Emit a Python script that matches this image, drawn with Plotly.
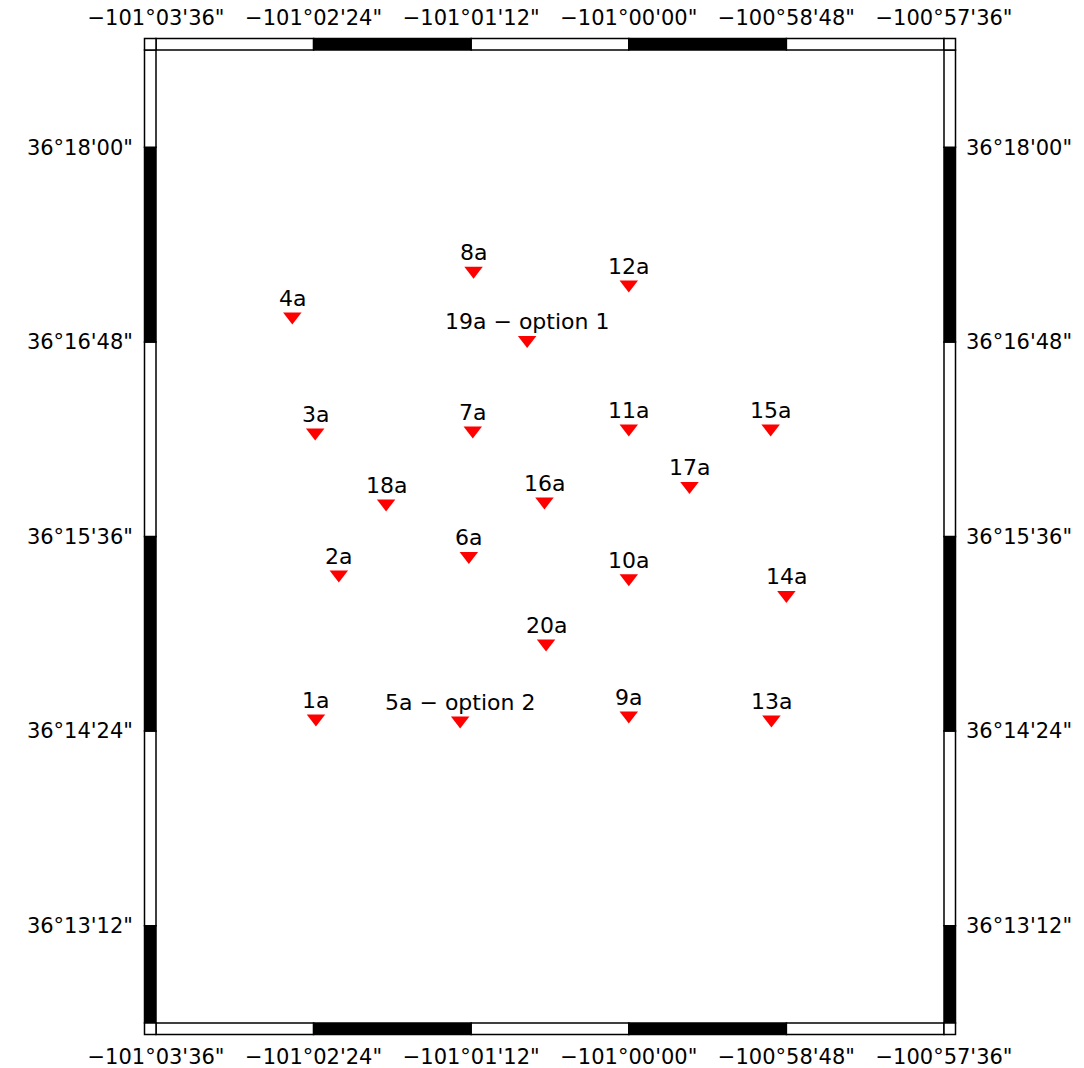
import plotly.graph_objects as go
import math

# ---------------- data ----------------
stations = ["1a", "2a", "3a", "4a", "5a", "6a", "7a", "8a", "9a", "10a",
            "11a", "12a", "13a", "14a", "15a", "16a", "17a", "18a", "19a", "20a"]
labels = ["1a", "2a", "3a", "4a", "5a \u2212 option 2", "6a", "7a", "8a", "9a", "10a",
          "11a", "12a", "13a", "14a", "15a", "16a", "17a", "18a", "19a \u2212 option 1", "20a"]
lon = [-101.0397, -101.0368, -101.0398, -101.0427, -101.0214, -101.0203, -101.0198, -101.0197,
       -101.0000, -101.0000, -101.0000, -101.0000, -100.9819, -100.9800, -100.9820, -101.0107,
       -100.9923, -101.0308, -101.0129, -101.0105]
lat = [36.2413, 36.2561, 36.2707, 36.2826, 36.2411, 36.2580, 36.2709, 36.2873,
       36.2416, 36.2557, 36.2711, 36.2859, 36.2412, 36.2540, 36.2711, 36.2636,
       36.2652, 36.2634, 36.2802, 36.2490]

lon_range = [-101.06, -100.96]
lat_range = [36.21, 36.31]

lon_ticks = [-101.06, -101.04, -101.02, -101.00, -100.98, -100.96]
lon_ticktext = ["\u2212101\u00b003'36\"", "\u2212101\u00b002'24\"", "\u2212101\u00b001'12\"",
                "\u2212101\u00b000'00\"", "\u2212100\u00b058'48\"", "\u2212100\u00b057'36\""]
lat_ticks = [36.22, 36.24, 36.26, 36.28, 36.30]
lat_ticktext = ["36\u00b013'12\"", "36\u00b014'24\"", "36\u00b015'36\"",
                "36\u00b016'48\"", "36\u00b018'00\""]
frame_interval = 0.02

# ---------------- layout constants ----------------
W, H = 1084, 1068
ML, MR, MT, MB = 156, 140, 50, 45
PW, PH = W - ML - MR, H - MT - MB
BAR = 11.5
FONT = "DejaVu Sans"

fig = go.Figure()

fig.add_trace(go.Scatter(
    x=lon, y=lat, mode="markers", text=stations,
    marker=dict(symbol="triangle-down", size=16, color="#ff0000", line=dict(width=0)),
    hoverinfo="text", showlegend=False))

# invisible trace for secondary (top / right) axes
fig.add_trace(go.Scatter(
    x=lon, y=lat, mode="markers", xaxis="x2", yaxis="y2",
    marker=dict(opacity=0), hoverinfo="skip", showlegend=False))

for lo, la, lab in zip(lon, lat, labels):
    fig.add_annotation(x=lo, y=la, text=lab, showarrow=False, yanchor="middle",
                       xanchor="center", yshift=18,
                       font=dict(family=FONT, size=22, color="black"))

# ---------------- GMT-like frame ----------------
def px_x(v):
    return (v - lon_range[0]) / (lon_range[1] - lon_range[0])

def px_y(v):
    return (v - lat_range[0]) / (lat_range[1] - lat_range[0])

bx, by = BAR / PW, BAR / PH

def segments(lo, hi, step):
    edges = [lo]
    k = math.floor(lo / step + 1e-9) + 1
    while k * step < hi - 1e-9:
        edges.append(round(k * step, 6))
        k += 1
    edges.append(hi)
    out = []
    for a, b in zip(edges[:-1], edges[1:]):
        idx = math.floor(a / step + 1e-9)
        out.append((a, b, "black" if idx % 2 == 0 else "white"))
    return out

line = dict(color="black", width=1.5)
for a, b, c in segments(lon_range[0], lon_range[1], frame_interval):
    for y0, y1 in [(1, 1 + by), (-by, 0)]:
        fig.add_shape(type="rect", xref="paper", yref="paper", x0=px_x(a), x1=px_x(b),
                      y0=y0, y1=y1, fillcolor=c, line=line, layer="above")
for a, b, c in segments(lat_range[0], lat_range[1], frame_interval):
    for x0, x1 in [(-bx, 0), (1, 1 + bx)]:
        fig.add_shape(type="rect", xref="paper", yref="paper", x0=x0, x1=x1,
                      y0=px_y(a), y1=px_y(b), fillcolor=c, line=line, layer="above")
for x0, x1 in [(-bx, 0), (1, 1 + bx)]:
    for y0, y1 in [(-by, 0), (1, 1 + by)]:
        fig.add_shape(type="rect", xref="paper", yref="paper", x0=x0, x1=x1,
                      y0=y0, y1=y1, fillcolor="white", line=line, layer="above")

tickfont = dict(family=FONT, size=21, color="black")
common = dict(showgrid=False, zeroline=False, showline=False, ticks="",
              fixedrange=True, automargin=False)

fig.update_layout(
    width=W, height=H,
    margin=dict(l=ML, r=MR, t=MT, b=MB, autoexpand=False),
    paper_bgcolor="white", plot_bgcolor="white",
    xaxis=dict(range=lon_range, tickvals=lon_ticks, ticktext=lon_ticktext,
               tickfont=tickfont, ticklabelstandoff=19, **common),
    xaxis2=dict(range=lon_range, tickvals=lon_ticks, ticktext=lon_ticktext,
                overlaying="x", side="top", anchor="y2",
                tickfont=tickfont, ticklabelstandoff=20, **common),
    yaxis=dict(range=lat_range, tickvals=lat_ticks, ticktext=lat_ticktext,
               tickfont=tickfont, ticklabelstandoff=22, **common),
    yaxis2=dict(range=lat_range, tickvals=lat_ticks, ticktext=lat_ticktext,
                overlaying="y", side="right", anchor="x2",
                tickfont=tickfont, ticklabelstandoff=21, **common),
    showlegend=False,
)

fig.write_html(
    "out.html",
    config={"displayModeBar": False},
    post_script="document.body.style.margin='0';document.body.style.overflow='hidden';",
)
